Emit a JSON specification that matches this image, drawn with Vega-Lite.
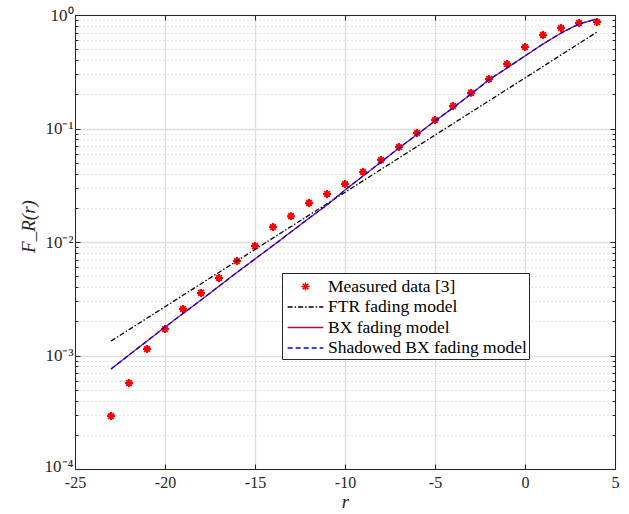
{
  "$schema": "https://vega.github.io/schema/vega-lite/v6.json",
  "width": 540,
  "height": 454,
  "autosize": {"type": "none"},
  "padding": {"left": 75, "top": 15, "right": 14, "bottom": 45},
  "background": "white",
  "config": {
    "view": {"stroke": "#262626", "strokeWidth": 1},
    "font": "Liberation Serif",
    "axis": {
      "labelFont": "Liberation Serif",
      "labelFontSize": 16,
      "labelColor": "#262626",
      "domainColor": "#262626",
      "tickColor": "#262626",
      "titleFont": "Liberation Serif",
      "titleColor": "#262626",
      "titleFontWeight": "normal"
    },
    "legend": {
      "orient": "none",
      "legendX": 207,
      "legendY": 258,
      "fillColor": "white",
      "strokeColor": "#262626",
      "padding": 2,
      "labelFont": "Liberation Serif",
      "labelFontSize": 17.5,
      "labelColor": "#000000",
      "labelLimit": 0,
      "symbolSize": 441,
      "symbolStrokeWidth": 1.5,
      "symbolOffset": 10,
      "labelOffset": 11,
      "rowPadding": 0.5,
      "symbolFillColor": "transparent"
    }
  },
  "data": {
    "values": [
      {"series": "Measured data [3]", "r": -23, "F": 0.000293},
      {"series": "Measured data [3]", "r": -22, "F": 0.000573},
      {"series": "Measured data [3]", "r": -21, "F": 0.00114},
      {"series": "Measured data [3]", "r": -20, "F": 0.00171},
      {"series": "Measured data [3]", "r": -19, "F": 0.00257},
      {"series": "Measured data [3]", "r": -18, "F": 0.00356},
      {"series": "Measured data [3]", "r": -17, "F": 0.00482},
      {"series": "Measured data [3]", "r": -16, "F": 0.0068},
      {"series": "Measured data [3]", "r": -15, "F": 0.0092},
      {"series": "Measured data [3]", "r": -14, "F": 0.01355},
      {"series": "Measured data [3]", "r": -13, "F": 0.0169},
      {"series": "Measured data [3]", "r": -12, "F": 0.0221},
      {"series": "Measured data [3]", "r": -11, "F": 0.0265},
      {"series": "Measured data [3]", "r": -10, "F": 0.0324},
      {"series": "Measured data [3]", "r": -9, "F": 0.0414},
      {"series": "Measured data [3]", "r": -8, "F": 0.0527},
      {"series": "Measured data [3]", "r": -7, "F": 0.0687},
      {"series": "Measured data [3]", "r": -6, "F": 0.0912},
      {"series": "Measured data [3]", "r": -5, "F": 0.119},
      {"series": "Measured data [3]", "r": -4, "F": 0.158},
      {"series": "Measured data [3]", "r": -3, "F": 0.206},
      {"series": "Measured data [3]", "r": -2, "F": 0.273},
      {"series": "Measured data [3]", "r": -1, "F": 0.37},
      {"series": "Measured data [3]", "r": 0, "F": 0.522},
      {"series": "Measured data [3]", "r": 1, "F": 0.667},
      {"series": "Measured data [3]", "r": 2, "F": 0.767},
      {"series": "Measured data [3]", "r": 3, "F": 0.851},
      {"series": "Measured data [3]", "r": 4, "F": 0.867},

      {"series": "FTR fading model", "r": -23, "F": 0.00134},
      {"series": "FTR fading model", "r": -20, "F": 0.00269},
      {"series": "FTR fading model", "r": -15, "F": 0.0086},
      {"series": "FTR fading model", "r": -10, "F": 0.0274},
      {"series": "FTR fading model", "r": -5, "F": 0.0875},
      {"series": "FTR fading model", "r": 0, "F": 0.279},
      {"series": "FTR fading model", "r": 4, "F": 0.708},

      {"series": "BX fading model", "r": -23, "F": 0.00076},
      {"series": "BX fading model", "r": -22, "F": 0.00101},
      {"series": "BX fading model", "r": -20, "F": 0.00178},
      {"series": "BX fading model", "r": -18, "F": 0.00308},
      {"series": "BX fading model", "r": -16, "F": 0.0054},
      {"series": "BX fading model", "r": -14, "F": 0.0093},
      {"series": "BX fading model", "r": -12, "F": 0.0162},
      {"series": "BX fading model", "r": -11, "F": 0.0212},
      {"series": "BX fading model", "r": -10, "F": 0.0287},
      {"series": "BX fading model", "r": -9, "F": 0.0381},
      {"series": "BX fading model", "r": -8, "F": 0.0507},
      {"series": "BX fading model", "r": -7, "F": 0.0673},
      {"series": "BX fading model", "r": -6, "F": 0.0885},
      {"series": "BX fading model", "r": -5, "F": 0.1164},
      {"series": "BX fading model", "r": -4, "F": 0.152},
      {"series": "BX fading model", "r": -3, "F": 0.201},
      {"series": "BX fading model", "r": -2, "F": 0.269},
      {"series": "BX fading model", "r": -1, "F": 0.341},
      {"series": "BX fading model", "r": 0, "F": 0.436},
      {"series": "BX fading model", "r": 1, "F": 0.555},
      {"series": "BX fading model", "r": 2, "F": 0.693},
      {"series": "BX fading model", "r": 3, "F": 0.834},
      {"series": "BX fading model", "r": 4, "F": 0.923},

      {"series": "Shadowed BX fading model", "r": -23, "F": 0.00076},
      {"series": "Shadowed BX fading model", "r": -22, "F": 0.00101},
      {"series": "Shadowed BX fading model", "r": -20, "F": 0.00178},
      {"series": "Shadowed BX fading model", "r": -18, "F": 0.00308},
      {"series": "Shadowed BX fading model", "r": -16, "F": 0.0054},
      {"series": "Shadowed BX fading model", "r": -14, "F": 0.0093},
      {"series": "Shadowed BX fading model", "r": -12, "F": 0.0162},
      {"series": "Shadowed BX fading model", "r": -11, "F": 0.0212},
      {"series": "Shadowed BX fading model", "r": -10, "F": 0.0287},
      {"series": "Shadowed BX fading model", "r": -9, "F": 0.0381},
      {"series": "Shadowed BX fading model", "r": -8, "F": 0.0507},
      {"series": "Shadowed BX fading model", "r": -7, "F": 0.0673},
      {"series": "Shadowed BX fading model", "r": -6, "F": 0.0885},
      {"series": "Shadowed BX fading model", "r": -5, "F": 0.1164},
      {"series": "Shadowed BX fading model", "r": -4, "F": 0.152},
      {"series": "Shadowed BX fading model", "r": -3, "F": 0.201},
      {"series": "Shadowed BX fading model", "r": -2, "F": 0.269},
      {"series": "Shadowed BX fading model", "r": -1, "F": 0.341},
      {"series": "Shadowed BX fading model", "r": 0, "F": 0.436},
      {"series": "Shadowed BX fading model", "r": 1, "F": 0.555},
      {"series": "Shadowed BX fading model", "r": 2, "F": 0.693},
      {"series": "Shadowed BX fading model", "r": 3, "F": 0.834},
      {"series": "Shadowed BX fading model", "r": 4, "F": 0.923}
    ]
  },
  "resolve": {"axis": {"x": "independent", "y": "independent"}},
  "layer": [
    {
      "transform": [{"filter": "datum.series == 'Measured data [3]'"}],
      "mark": {"type": "point", "filled": false, "strokeWidth": 2, "size": 441, "opacity": 1},
      "encoding": {
        "x": {
          "field": "r", "type": "quantitative",
          "scale": {"domain": [-25, 5], "nice": false, "zero": false},
          "axis": {
            "orient": "bottom",
            "values": [-25, -20, -15, -10, -5, 0, 5],
            "title": "r",
            "titleFontStyle": "italic",
            "titleFontSize": 19,
            "titlePadding": 2,
            "labelExpr": "'' + datum.value",
            "labelFlush": false,
            "labelPadding": 10,
            "tickSize": -5,
            "grid": true,
            "gridColor": "#dedede",
            "gridWidth": 1.3,
            "zindex": 0
          }
        },
        "y": {
          "field": "F", "type": "quantitative",
          "scale": {"type": "log", "domain": [0.0001, 1], "nice": false},
          "axis": {
            "orient": "left",
            "values": [0.0001, 0.0002, 0.0003, 0.0004, 0.0005, 0.0006, 0.0007, 0.0008, 0.0009, 0.001, 0.002, 0.003, 0.004, 0.005, 0.006, 0.007, 0.008, 0.009, 0.01, 0.02, 0.03, 0.04, 0.05, 0.06, 0.07, 0.08, 0.09, 0.1, 0.2, 0.3, 0.4, 0.5, 0.6, 0.7, 0.8, 0.9, 1],
            "title": "F_R(r)",
            "titleFontStyle": "italic",
            "titleFontSize": 19,
            "titleAngle": -90,
            "titleBaseline": "middle",
            "titleX": -47,
            "titleY": 211,
            "labelExpr": "abs(log(datum.value)/LN10 - round(log(datum.value)/LN10)) < 0.001 ? ['10⁰','10⁻¹','10⁻²','10⁻³','10⁻⁴'][-round(log(datum.value)/LN10)] : ''",
            "labelOverlap": false,
            "labelFlush": false,
            "labelPadding": 7,
            "labelFontSize": 17,
            "labelOffset": {"condition": {"test": "datum.value < 0.00015", "value": -3}, "value": 0},
            "tickSize": {"condition": {"test": "abs(log(datum.value)/LN10 - round(log(datum.value)/LN10)) < 0.001", "value": -5}, "value": -3},
            "grid": true,
            "gridColor": {"condition": {"test": "abs(log(datum.value)/LN10 - round(log(datum.value)/LN10)) < 0.001", "value": "#dedede"}, "value": "#bdbdbd"},
            "gridDash": {"condition": {"test": "abs(log(datum.value)/LN10 - round(log(datum.value)/LN10)) < 0.001", "value": []}, "value": [1, 3]},
            "gridWidth": {"condition": {"test": "abs(log(datum.value)/LN10 - round(log(datum.value)/LN10)) < 0.001", "value": 1.3}, "value": 0.8},
            "zindex": 0
          }
        },
        "color": {
          "field": "series", "type": "nominal",
          "scale": {"domain": ["Measured data [3]", "FTR fading model", "BX fading model", "Shadowed BX fading model"], "range": ["#ff0000", "#000000", "#a2142f", "#0000ff"]},
          "legend": {"title": null}
        },
        "shape": {
          "field": "series", "type": "nominal",
          "scale": {"domain": ["Measured data [3]", "FTR fading model", "BX fading model", "Shadowed BX fading model"], "range": ["M-0.38,0L0.38,0M0,-0.38L0,0.38M-0.27,-0.27L0.27,0.27M-0.27,0.27L0.27,-0.27", "M-1.7,0L1.7,0", "M-1.7,0L1.7,0", "M-1.7,0L1.7,0"]},
          "legend": {"title": null}
        }
      }
    },
    {
      "transform": [{"filter": "datum.series == 'FTR fading model'"}],
      "mark": {"type": "line", "strokeWidth": 1.3},
      "encoding": {
        "x": {
          "field": "r", "type": "quantitative",
          "axis": {"orient": "top", "values": [-25, -20, -15, -10, -5, 0, 5], "labels": false, "title": null, "tickSize": -5, "grid": false}
        },
        "y": {
          "field": "F", "type": "quantitative",
          "axis": {
            "orient": "right",
            "values": [0.0001, 0.0002, 0.0003, 0.0004, 0.0005, 0.0006, 0.0007, 0.0008, 0.0009, 0.001, 0.002, 0.003, 0.004, 0.005, 0.006, 0.007, 0.008, 0.009, 0.01, 0.02, 0.03, 0.04, 0.05, 0.06, 0.07, 0.08, 0.09, 0.1, 0.2, 0.3, 0.4, 0.5, 0.6, 0.7, 0.8, 0.9, 1],
            "labels": false,
            "title": null,
            "grid": false,
            "tickSize": {"condition": {"test": "abs(log(datum.value)/LN10 - round(log(datum.value)/LN10)) < 0.001", "value": -5}, "value": -3}
          }
        },
        "color": {"field": "series", "type": "nominal", "legend": {"title": null}},
        "strokeDash": {
          "field": "series", "type": "nominal",
          "scale": {"domain": ["Measured data [3]", "FTR fading model", "BX fading model", "Shadowed BX fading model"], "range": [[1, 0], [5, 2, 1.5, 2], [1, 0], [5, 3]]},
          "legend": {"title": null}
        }
      }
    },
    {
      "transform": [{"filter": "datum.series == 'BX fading model'"}],
      "mark": {"type": "line", "strokeWidth": 1.3},
      "encoding": {
        "x": {"field": "r", "type": "quantitative", "axis": null},
        "y": {"field": "F", "type": "quantitative", "axis": null},
        "color": {"field": "series", "type": "nominal", "legend": {"title": null}},
        "strokeDash": {"field": "series", "type": "nominal", "legend": {"title": null}}
      }
    },
    {
      "transform": [{"filter": "datum.series == 'Shadowed BX fading model'"}],
      "mark": {"type": "line", "strokeWidth": 1.3},
      "encoding": {
        "x": {"field": "r", "type": "quantitative", "axis": null},
        "y": {"field": "F", "type": "quantitative", "axis": null},
        "color": {"field": "series", "type": "nominal", "legend": {"title": null}},
        "strokeDash": {"field": "series", "type": "nominal", "legend": {"title": null}}
      }
    }
  ]
}
